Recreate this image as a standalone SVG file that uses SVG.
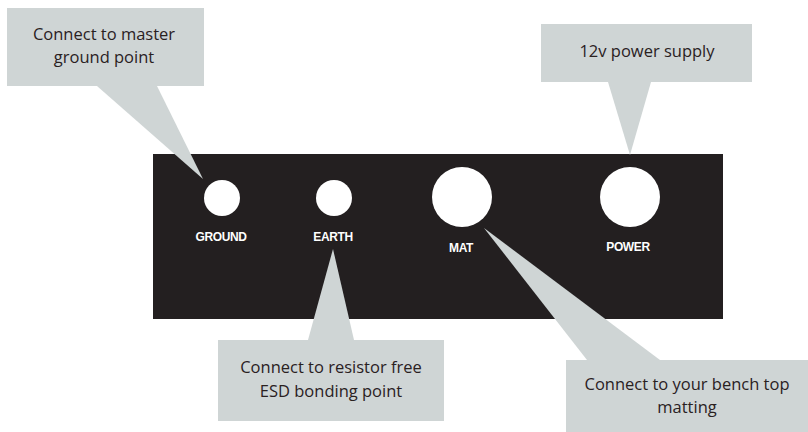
<svg xmlns="http://www.w3.org/2000/svg" width="808" height="432" viewBox="0 0 808 432">
<style>
.callout{fill:#cfd5d5}
.ctext{font-family:"Open Sans","Liberation Sans",sans-serif;font-size:16.5px;fill:#2a211f;text-anchor:middle}
.port{fill:#ffffff}
.plabel{font-family:"Liberation Sans",sans-serif;font-size:12px;font-weight:bold;fill:#ffffff;text-anchor:middle;letter-spacing:-0.4px}
</style>
<rect width="808" height="432" fill="#ffffff"/>
<g id="panel">
<rect x="153" y="154" width="570" height="165" fill="#231f20"/>
</g>
<g id="connectors">
<polygon class="callout" points="97,86 157,86 203,179"/>
<polygon class="callout" points="608,82 651,82 630,155"/>
<polygon class="callout" points="308,340 354,340 333,249"/>
<polygon class="callout" points="587,360 660,360 484,228"/>
</g>
<g id="ground">
<circle class="port" cx="222" cy="198" r="18"/>
<text class="plabel" x="221" y="241">GROUND</text>
</g>
<g id="earth">
<circle class="port" cx="334" cy="198" r="18"/>
<text class="plabel" x="333" y="241">EARTH</text>
</g>
<g id="mat">
<circle class="port" cx="462" cy="197" r="30"/>
<text class="plabel" x="461" y="252">MAT</text>
</g>
<g id="power">
<circle class="port" cx="630" cy="197" r="30"/>
<text class="plabel" x="628" y="251">POWER</text>
</g>
<g id="callout-ground">
<rect class="callout" x="7" y="8" width="197" height="78"/>
<text class="ctext" x="104" y="40">Connect to master</text>
<text class="ctext" x="104" y="63">ground point</text>
</g>
<g id="callout-power">
<rect class="callout" x="541" y="24" width="211" height="58"/>
<text class="ctext" x="647" y="57">12v power supply</text>
</g>
<g id="callout-earth">
<rect class="callout" x="218" y="340" width="226" height="81"/>
<text class="ctext" x="331" y="373">Connect to resistor free</text>
<text class="ctext" x="331" y="397">ESD bonding point</text>
</g>
<g id="callout-mat">
<rect class="callout" x="566" y="360" width="242" height="72"/>
<text class="ctext" x="687" y="390">Connect to your bench top</text>
<text class="ctext" x="687" y="413">matting</text>
</g>
</svg>
